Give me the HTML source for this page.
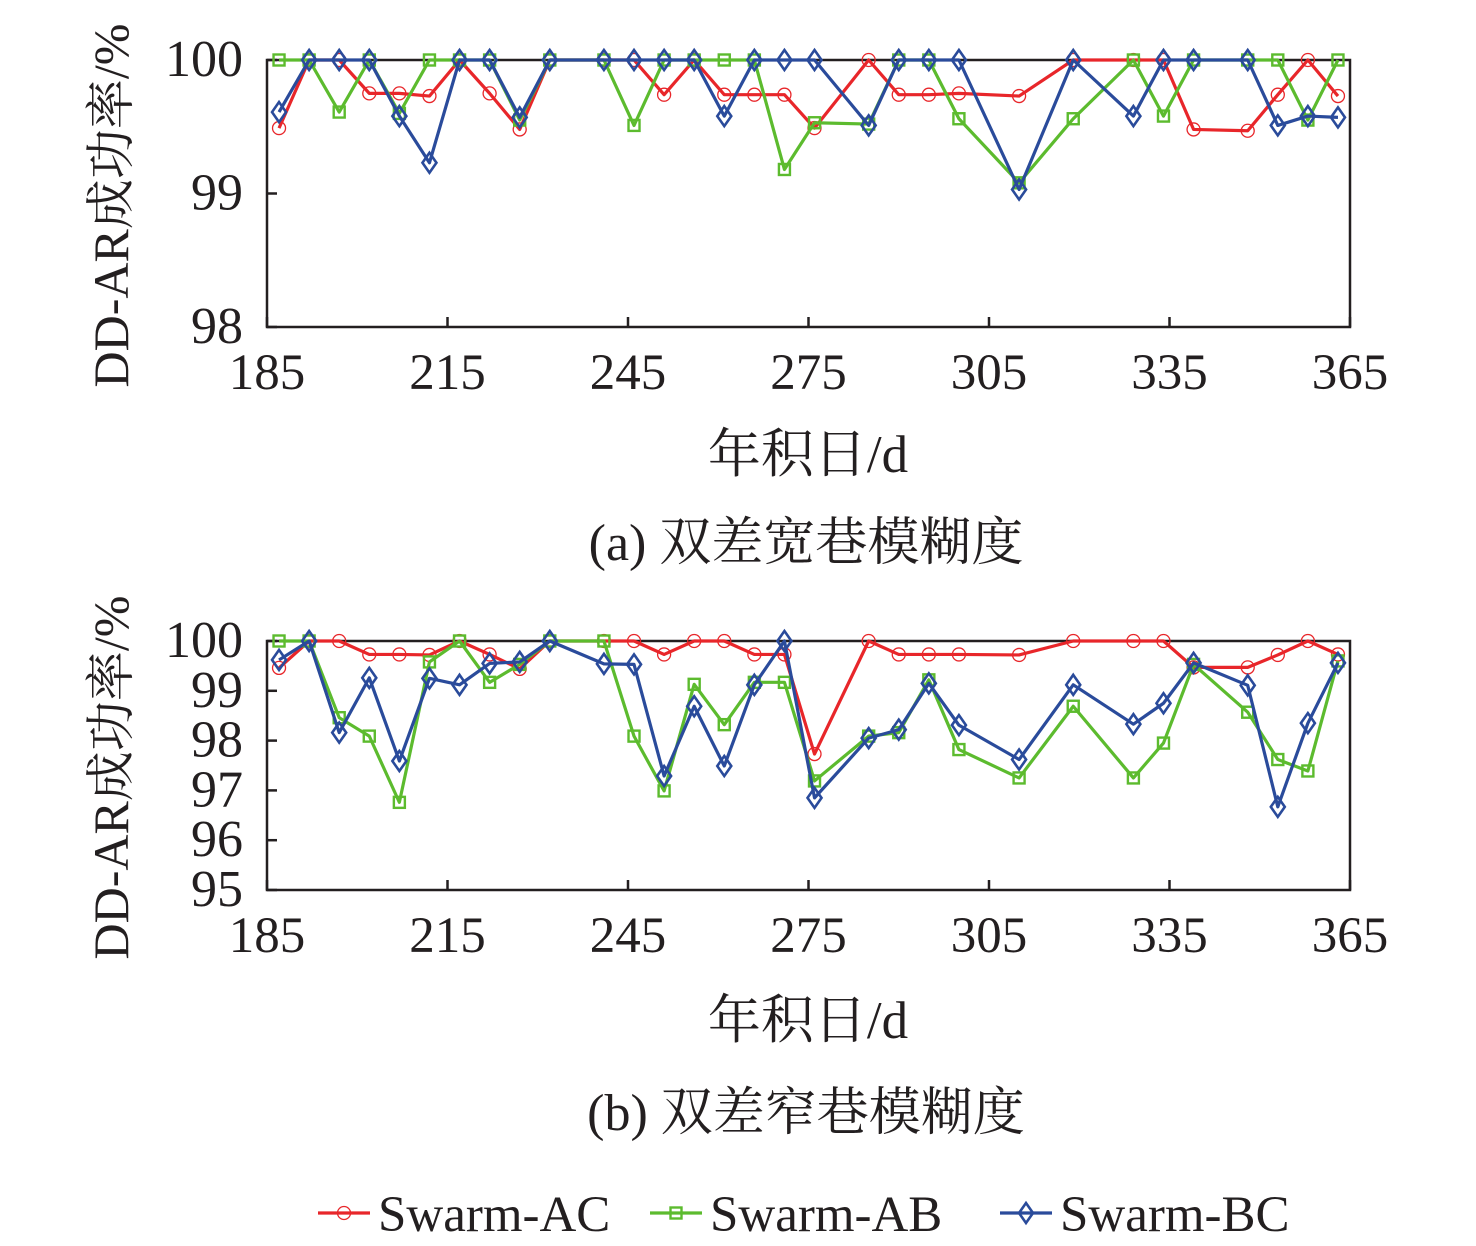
<!DOCTYPE html>
<html><head><meta charset="utf-8">
<style>
html,body{margin:0;padding:0;background:#fff;}
svg{display:block;}
text{font-family:"Liberation Serif","Noto Serif CJK SC","Noto Sans CJK SC",serif;fill:#231f20;}
</style></head>
<body>
<svg id="chart" width="1476" height="1246" viewBox="0 0 1476 1246" xmlns="http://www.w3.org/2000/svg"></svg>
<script>
const days = [187,192,197,202,207,212,217,222,227,232,241,246,251,256,261,266,271,276,285,290,295,300,310,319,329,334,339,348,353,358,363];
const xTicks = [185,215,245,275,305,335,365];
const aTicks = [98,99,100];
const bTicks = [95,96,97,98,99,100];
const aAC = [99.49,100,100,99.75,99.75,99.73,100,99.75,99.48,100,100,100,99.74,100,99.74,99.74,99.74,99.49,100,99.74,99.74,99.75,99.73,100,100,100,99.48,99.47,99.74,100,99.73];
const aAB = [100,100,99.61,100,99.6,100,100,100,99.55,100,100,99.51,100,100,100,100,99.18,99.53,99.52,100,100,99.56,99.08,99.56,100,99.58,100,100,100,99.55,100];
const aBC = [99.61,100,100,100,99.58,99.23,100,100,99.57,100,100,100,100,100,99.58,100,100,100,99.51,100,100,100,99.03,100,99.58,100,100,100,99.51,99.58,99.57];
const bAC = [99.46,100,100,99.73,99.73,99.72,100,99.73,99.44,100,100,100,99.73,100,100,99.73,99.73,97.73,100,99.73,99.73,99.73,99.72,100,100,100,99.47,99.47,99.72,100,99.73];
const bAB = [100,100,98.46,98.09,96.76,99.58,100,99.17,99.53,100,100,98.09,96.99,99.13,98.32,99.17,99.17,97.19,98.09,98.16,99.22,97.82,97.25,98.69,97.25,97.95,99.53,98.57,97.62,97.39,99.6];
const bBC = [99.62,100,98.16,99.26,97.59,99.25,99.12,99.55,99.58,100,99.54,99.53,97.29,98.69,97.49,99.12,100,96.85,98.05,98.22,99.15,98.31,97.62,99.12,98.33,98.75,99.56,99.11,96.67,98.35,99.56];

const NS='http://www.w3.org/2000/svg';
const svg=document.getElementById('chart');
function mk(tag,attrs,parent){const e=document.createElementNS(NS,tag);for(const k in attrs)e.setAttribute(k,attrs[k]);(parent||svg).appendChild(e);return e;}
const X0=267,X1=1350;
function xs(d){return X0+(d-185)/(365-185)*(X1-X0);}
const RED='#e8262a',GREEN='#5cbb2e',BLUE='#2a4b9b';

function marker(g,type,x,y,color){
  let m;
  if(type==='circle'){m=mk('circle',{cx:x,cy:y,r:6.5,fill:'none',stroke:color,'stroke-width':1.3},g);}
  else if(type==='square'){m=mk('rect',{x:x-5.5,y:y-5.5,width:11,height:11,fill:'none',stroke:color,'stroke-width':2.4},g);}
  else {m=mk('path',{d:`M${x} ${y-10}L${x+7} ${y}L${x} ${y+10}L${x-7} ${y}Z`,fill:'none',stroke:color,'stroke-width':2.6},g);}
  return m;
}

function panel(id,yTop,yBot,vmin,vmax,yticks,series,caption,xlabY,titleY,capY){
  const g=mk('g',{});
  
  
  const ys=v=>yBot-(v-vmin)/(vmax-vmin)*(yBot-yTop);
  const frame=mk('rect',{x:X0,y:yTop,width:X1-X0,height:yBot-yTop,fill:'none',stroke:'#231f20','stroke-width':2.5},g);
  
  
  yticks.forEach(t=>{
    const y=ys(t);
    mk('line',{x1:X0,x2:X0+10,y1:y,y2:y,stroke:'#231f20','stroke-width':2.5},g);
    const tx=mk('text',{x:243,y:y+16,'text-anchor':'end','font-size':52},g);
    tx.textContent=t;
    
    
  });
  xTicks.forEach(t=>{
    const x=xs(t);
    mk('line',{x1:x,x2:x,y1:yBot,y2:yBot-10,stroke:'#231f20','stroke-width':2.5},g);
    const tx=mk('text',{x:x,y:xlabY,'text-anchor':'middle','font-size':51},g);
    tx.textContent=t;
    
    
  });
  series.forEach(s=>{
    const sg=mk('g',{},g);
    
    
    const pts=days.map((d,i)=>xs(d)+','+ys(s.vals[i])).join(' ');
    const pl=mk('polyline',{points:pts,fill:'none',stroke:s.color,'stroke-width':3.2,'stroke-linejoin':'round'},sg);
    
    
    days.forEach((d,i)=>{
      const m=marker(sg,s.marker,xs(d),ys(s.vals[i]),s.color);
      
      
    });
  });
  const yt=mk('text',{x:0,y:0,'text-anchor':'middle','font-size':50,transform:`translate(128,${(yTop+yBot)/2+12}) rotate(-90)`},g);
  yt.textContent='DD-AR成功率/%';
  
  
  const xt=mk('text',{x:808,y:titleY,'text-anchor':'middle','font-size':53},g);
  xt.textContent='年积日/d';
  
  
  const cp=mk('text',{x:806,y:capY,'text-anchor':'middle','font-size':52},g);
  cp.textContent=caption;
  
  
}

panel('a',60,327,98,100,aTicks,[
  {name:'swarm-ac',vals:aAC,color:RED,marker:'circle'},
  {name:'swarm-ab',vals:aAB,color:GREEN,marker:'square'},
  {name:'swarm-bc',vals:aBC,color:BLUE,marker:'diamond'}
],'(a) 双差宽巷模糊度',389,472,560);
panel('b',641,890,95,100,bTicks,[
  {name:'swarm-ac',vals:bAC,color:RED,marker:'circle'},
  {name:'swarm-ab',vals:bAB,color:GREEN,marker:'square'},
  {name:'swarm-bc',vals:bBC,color:BLUE,marker:'diamond'}
],'(b) 双差窄巷模糊度',952,1038,1130);

const legend=[['Swarm-AC',RED,'circle',318],['Swarm-AB',GREEN,'square',650],['Swarm-BC',BLUE,'diamond',1000]];
legend.forEach(l=>{
  const g=mk('g',{});
  
  
  mk('line',{x1:l[3],x2:l[3]+52,y1:1213,y2:1213,stroke:l[1],'stroke-width':3.2},g);
  marker(g,l[2],l[3]+26,1213,l[1]);
  const t=mk('text',{x:l[3]+60,y:1231,'font-size':51},g);
  t.textContent=l[0];
});
</script>
</body></html>
